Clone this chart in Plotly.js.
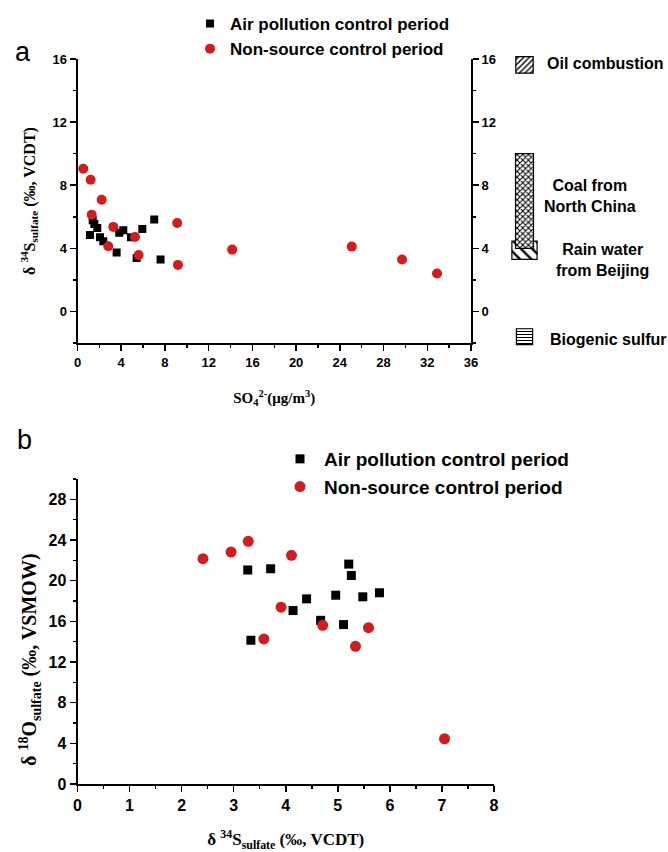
<!DOCTYPE html>
<html>
<head>
<meta charset="utf-8">
<script src="https://cdn.plot.ly/plotly-3.0.1.min.js"></script>
<style>html,body{margin:0;padding:0;background:#fff;}#chart{width:668px;height:852px;}</style>
</head>
<body>
<div id="chart"></div>
<script>
// ---- Panel a: δ34S vs SO4 concentration ----
const aAirX = [1.14, 1.39, 1.54, 1.81, 2.06, 2.36, 3.58, 3.82, 4.19, 4.89, 5.41, 5.93, 7.02, 7.60];
const aAirY = [4.85, 5.78, 5.55, 5.29, 4.70, 4.45, 3.73, 4.98, 5.14, 4.70, 3.39, 5.23, 5.82, 3.29];
const aNonX = [0.53, 1.20, 2.21, 1.30, 3.27, 2.82, 5.26, 5.59, 9.12, 9.19, 14.15, 25.09, 29.69, 32.89];
const aNonY = [9.04, 8.35, 7.08, 6.13, 5.36, 4.13, 4.72, 3.58, 5.61, 2.95, 3.92, 4.11, 3.29, 2.40];

// ---- Panel b: δ18O vs δ34S ----
const bAirX = [3.27, 3.33, 3.71, 4.14, 4.40, 4.67, 4.96, 5.11, 5.21, 5.26, 5.48, 5.80];
const bAirY = [21.04, 14.13, 21.17, 17.06, 18.21, 16.10, 18.57, 15.68, 21.63, 20.51, 18.41, 18.81];
const bNonX = [2.41, 2.95, 3.28, 3.58, 3.91, 4.11, 4.71, 5.34, 5.59, 7.05];
const bNonY = [22.16, 22.81, 23.87, 14.27, 17.39, 22.49, 15.61, 13.54, 15.38, 4.45];

// ---- Source δ34S ranges (panel a, right side) ----
const sourceNames = ['Oil combustion', 'Coal from<br>North China', 'Rain water<br>from Beijing', 'Biogenic sulfur'];
const sourceLow  = [15.1, 4.0, 3.3, -2.1];
const sourceHigh = [16.15, 10.0, 4.45, -1.1];
const sourcePattern = ['/', 'x', '\\', '-'];
const sourceOrder = [0, 2, 1, 3]; // draw rain water before coal

const seriesNames = ['Air pollution control period', 'Non-source control period'];
const RED = '#d41c1f';

const W = 668, H = 852;
const px = v => v / W;
const py = v => 1 - v / H;

const SANS = 'Liberation Sans, Arial';
const tickFontA = {family: SANS, size: 13, color: '#000'};
const tickFontB = {family: SANS, size: 16, color: '#000'};
const serif = 'Liberation Serif, Times New Roman';

const traces = [
  {type: 'scatter', mode: 'markers', x: aAirX, y: aAirY, xaxis: 'x', yaxis: 'y', name: '<b>' + seriesNames[0] + '</b>',
   marker: {symbol: 'square', size: 8, color: '#000'}, legend: 'legend'},
  {type: 'scatter', mode: 'markers', x: aNonX, y: aNonY, xaxis: 'x', yaxis: 'y', name: '<b>' + seriesNames[1] + '</b>',
   marker: {symbol: 'circle', size: 10, color: RED}, legend: 'legend'},
  // same series bound to the right-hand axis so that it is drawn (invisible copy)
  {type: 'scatter', mode: 'markers', x: aNonX, y: aNonY, xaxis: 'x', yaxis: 'y2', showlegend: false, hoverinfo: 'skip',
   marker: {size: 1, opacity: 0}},
  {type: 'scatter', mode: 'markers', x: bAirX, y: bAirY, xaxis: 'x2', yaxis: 'y3', name: '<b>' + seriesNames[0] + '</b>',
   marker: {symbol: 'square', size: 9, color: '#000'}, legend: 'legend2'},
  {type: 'scatter', mode: 'markers', x: bNonX, y: bNonY, xaxis: 'x2', yaxis: 'y3', name: '<b>' + seriesNames[1] + '</b>',
   marker: {symbol: 'circle', size: 11, color: RED}, legend: 'legend2'}
];

const widths = [0.29, 0.3, 0.42, 0.27];
const psize = [4, 4, 8, 3];
const psolid = [0.35, 0.45, 0.3, 0.35];
sourceOrder.forEach(i => {
  traces.push({
    type: 'bar', x: ['src'], y: [sourceHigh[i] - sourceLow[i]], base: [sourceLow[i]],
    xaxis: 'x3', yaxis: 'y4', width: widths[i], showlegend: false, hoverinfo: 'skip',
    marker: {color: '#fff', line: {color: '#000', width: 1.2},
             pattern: {shape: sourcePattern[i], size: psize[i], solidity: psolid[i], fgcolor: '#000', bgcolor: '#fff'}}
  });
});

const bold = t => '<b>' + t.split('<br>').join('</b><br><b>') + '</b>';
const srcFont = {family: SANS, size: 16, color: '#000'};
const annotations = [
  {text: 'a', x: px(23), y: py(52), xanchor: 'center', yanchor: 'middle', xref: 'paper', yref: 'paper', showarrow: false,
   font: {family: SANS, size: 27, color: '#000'}},
  {text: 'b', x: px(25), y: py(440), xanchor: 'center', yanchor: 'middle', xref: 'paper', yref: 'paper', showarrow: false,
   font: {family: SANS, size: 27, color: '#000'}},
  {text: bold(sourceNames[0]), x: px(545), y: py(64), xanchor: 'left', yanchor: 'middle', xref: 'paper', yref: 'paper', showarrow: false, font: srcFont},
  {text: bold(sourceNames[1]), x: px(590), y: py(196), xanchor: 'center', yanchor: 'middle', xref: 'paper', yref: 'paper', showarrow: false, font: srcFont},
  {text: bold(sourceNames[2]), x: px(602), y: py(260), xanchor: 'center', yanchor: 'middle', xref: 'paper', yref: 'paper', showarrow: false, font: srcFont},
  {text: bold(sourceNames[3]), x: px(548), y: py(339), xanchor: 'left', yanchor: 'middle', xref: 'paper', yref: 'paper', showarrow: false, font: srcFont},
  {text: '<b>δ <sup>18</sup>O<sub>sulfate</sub> (‰, VSMOW)</b>', textangle: -90, x: px(30), y: py(660), xanchor: 'center', yanchor: 'middle',
   xref: 'paper', yref: 'paper', showarrow: false, font: {family: serif, size: 20, color: '#000'}}
];

const axisBase = {showgrid: false, zeroline: false, showline: true, linecolor: '#000', linewidth: 2,
  ticks: 'outside', ticklen: 6, tickwidth: 1.5, tickcolor: '#000', tickprefix: '<b>', ticksuffix: '</b>'};
const minorA = (d) => ({dtick: d, tick0: 0, ticks: 'outside', ticklen: 3, tickcolor: '#000', tickwidth: 1.5});

const layout = {
  width: W, height: H, margin: {l: 0, r: 0, t: 0, b: 0},
  paper_bgcolor: '#fff', plot_bgcolor: 'rgba(0,0,0,0)',
  showlegend: true, barmode: 'overlay',
  xaxis: Object.assign({}, axisBase, {domain: [px(77.5), px(471)], range: [0, 36], dtick: 4, tick0: 0, anchor: 'y',
    tickfont: tickFontA, minor: minorA(2),
    title: {text: '<b>SO<sub>4</sub><sup>2-</sup>(μg/m<sup>3</sup>)</b>', font: {family: serif, size: 15, color: '#000'}, standoff: 24}}),
  yaxis: Object.assign({}, axisBase, {domain: [py(343), py(59)], range: [-2, 16], dtick: 4, tick0: 0, anchor: 'x',
    tickfont: tickFontA, minor: minorA(2),
    title: {text: '<b>δ <sup>34</sup>S<sub>sulfate</sub> (‰, VCDT)</b>', font: {family: serif, size: 16, color: '#000'}, standoff: 13}}),
  yaxis2: Object.assign({}, axisBase, {overlaying: 'y', side: 'right', anchor: 'x', range: [-2, 16], dtick: 4, tick0: 0,
    tickfont: tickFontA, minor: minorA(2)}),
  xaxis2: Object.assign({}, axisBase, {domain: [px(77.5), px(494)], range: [0, 8], dtick: 1, tick0: 0, anchor: 'y3',
    tickfont: tickFontB, minor: minorA(0.5),
    title: {text: '<b>δ <sup>34</sup>S<sub>sulfate</sub> (‰, VCDT)</b>', font: {family: serif, size: 17, color: '#000'}, standoff: 22}}),
  yaxis3: Object.assign({}, axisBase, {domain: [py(784), py(479)], range: [0, 30], dtick: 4, tick0: 0, anchor: 'x2',
    tickfont: tickFontB, minor: minorA(2)}),
  xaxis3: {domain: [px(494.5), px(554.5)], range: [-0.5, 0.5], type: 'category', visible: false, anchor: 'y4', fixedrange: true},
  yaxis4: {domain: [py(360), py(30)], range: [-3.08, 17.835], visible: false, anchor: 'x3', fixedrange: true},
  legend: {x: px(190), y: py(6), xanchor: 'left', yanchor: 'top', bgcolor: 'rgba(0,0,0,0)',
    font: {family: SANS, size: 17, color: '#000'}},
  legend2: {x: px(276), y: py(440), xanchor: 'left', yanchor: 'top', bgcolor: 'rgba(0,0,0,0)', itemwidth: 38,
    font: {family: SANS, size: 19, color: '#000'}},
  annotations: annotations
};

Plotly.newPlot('chart', traces, layout, {staticPlot: true});
</script>
</body>
</html>
